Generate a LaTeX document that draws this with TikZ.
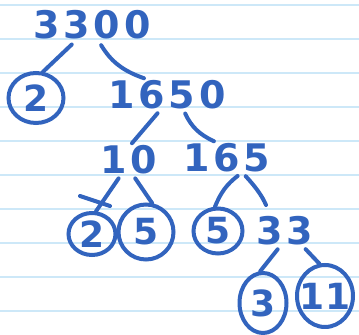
\documentclass[tikz,border=0pt]{standalone}
\usepackage{fontspec}
\usepackage{tikz}
\usetikzlibrary{shapes,calc}
\newfontfamily\handfont[LetterSpace=10]{DejaVu Sans}
\newfontfamily\primefont{DejaVu Sans}
\definecolor{inkblue}{RGB}{50,100,190}
\definecolor{ruleblue}{RGB}{205,232,248}

\begin{document}
\begin{tikzpicture}[x=0.5pt,y=-0.5pt,
    num/.style={text=inkblue, inner sep=1pt, font=\handfont\bfseries\fontsize{19}{19}\selectfont},
    prime/.style={ellipse, draw=inkblue, line width=2pt, inner sep=0pt, text=inkblue, font=\primefont\bfseries\fontsize{18}{18}\selectfont},
    branch/.style={draw=inkblue, line width=2pt, line cap=round},
    ruled/.style={draw=ruleblue, line width=1pt}]
    \useasboundingbox[fill=white] (0,0) rectangle (359,335);
    % Paper
    \foreach \k in {0,...,9} {
        \draw[ruled] (0,5+34*\k) -- (359,5+34*\k);
    }

    % Numbers
    \node[num] (n3300) at (92,25) {3300};
    \node[num] (n1650) at (167,95) {1650};
    \node[num] (n10) at (129,160) {10};
    \node[num] (n165) at (227,158) {165};
    \node[num] (n33) at (285,231) {33};

    % Primes
    \node[prime, minimum width=27.5pt, minimum height=25pt] (p2a) at (36,98) {2};
    \node[prime, minimum width=23.5pt, minimum height=21pt] (p2b) at (92,234) {2};
    \node[prime, minimum width=27.5pt, minimum height=27.5pt] (p5a) at (146,232) {5};
    \node[prime, minimum width=24.5pt, minimum height=22.5pt] (p5b) at (218,231) {5};
    \node[prime, minimum width=23.5pt, minimum height=30pt] (p3) at (263,303) {3};
    \node[prime, inner xsep=-5pt, minimum width=28pt, minimum height=31pt] (p11) at (325,296) {11};

    % Branches
    \draw[branch, shorten <=2pt] (n3300.224) -- (p2a.75);
    \draw[branch, shorten <=2pt] (n3300.293) to[bend right=20] (n1650.144);
    \draw[branch, shorten <=1pt] (n1650.244) -- (n10.80);
    \draw[branch, shorten <=1pt] (n1650.316) to[bend right=20] (n165.128);
    \draw[branch, shorten <=1pt] (n10.241) -- (p2b.80);
    \draw[branch] ($(p2b.north)+(-12,-15)$) -- ++(30,10);
    \draw[branch, shorten <=1pt] (n10.287) -- (p5a.78);
    \draw[branch, shorten <=1pt] (n165.306) to[bend right=15] (p5b.97);
    \draw[branch, shorten <=1pt, shorten >=5pt] (n165.316) to[bend left=10] (n33.132);
    \draw[branch, shorten <=1pt] (n33.250) -- (p3.95);
    \draw[branch, shorten <=1pt] (n33.319) -- (p11.100);
\end{tikzpicture}
\end{document}
